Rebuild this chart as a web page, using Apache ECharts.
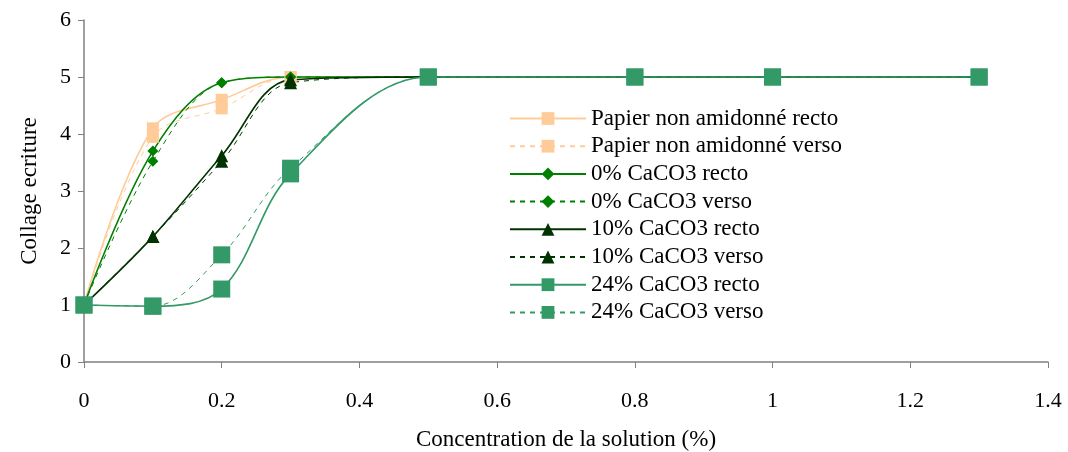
<!DOCTYPE html>
<html>
<head>
<meta charset="utf-8">
<script src="https://cdn.jsdelivr.net/npm/echarts@6/dist/echarts.min.js"></script>
<style>
  html, body { margin: 0; padding: 0; background: #fff; }
  #chart { width: 1068px; height: 452px; }
</style>
</head>
<body>
<div id="chart"></div>
<script>
// concentrations (%)
var xs = [0, 0.1, 0.2, 0.3, 0.5, 0.8, 1, 1.3];

var papierRecto = [1, 4.1, 4.6, 5, 5, 5, 5, 5];
var papierVerso = [1, 3.95, 4.45, 5, 5, 5, 5, 5];
var ca0Recto = [1, 3.7, 4.9, 5, 5, 5, 5, 5];
var ca0Verso = [1, 3.52, 4.9, 5, 5, 5, 5, 5];
var ca10Recto = [1, 2.2, 3.62, 4.95, 5, 5, 5, 5];
var ca10Verso = [1, 2.2, 3.52, 4.9, 5, 5, 5, 5];
var ca24Recto = [1, 0.98, 1.28, 3.3, 5, 5, 5, 5];
var ca24Verso = [1, 0.98, 1.88, 3.4, 5, 5, 5, 5];

var xTicks = [0, 0.2, 0.4, 0.6, 0.8, 1, 1.2, 1.4];
var yTicks = [0, 1, 2, 3, 4, 5, 6];

function pts(vals) {
  return xs.map(function (x, i) { return [x, vals[i]]; });
}

// série en ligne lissée, façon Excel
function serie(name, vals, color, symbol, size, dashed) {
  return {
    name: name,
    type: 'line',
    data: pts(vals),
    smooth: 0.35,
    symbol: symbol,
    symbolSize: size,
    showAllSymbol: true,
    itemStyle: { color: color },
    lineStyle: { color: color, width: dashed ? 1 : 1.6, type: dashed ? [5, 5] : 'solid' }
  };
}

var font = 'Liberation Serif';
var myChart = echarts.init(document.getElementById('chart'));
myChart.setOption({
  animation: false,
  grid: { left: 84, right: 20, top: 20, bottom: 90, outerBoundsMode: 'none', containLabel: false },
  legend: {
    orient: 'vertical',
    left: 509,
    top: 107,
    padding: 0,
    itemWidth: 76,
    itemHeight: 16,
    itemGap: 4.7,
    textStyle: { fontFamily: font, fontSize: 23, color: '#000', lineHeight: 23 }
  },
  xAxis: {
    type: 'value',
    min: 0, max: 1.4, interval: 0.2,
    name: 'Concentration de la solution (%)',
    nameLocation: 'middle',
    nameGap: 66,
    nameTextStyle: { fontFamily: font, fontSize: 23, color: '#000' },
    axisLine: { show: true, lineStyle: { color: '#808080', width: 1.5 } },
    axisTick: { show: true, length: 6, lineStyle: { color: '#808080' } },
    axisLabel: {
      margin: 28, fontFamily: font, fontSize: 22, color: '#000',
      formatter: function (v) { return String(+v.toFixed(1)); }
    },
    splitLine: { show: false }
  },
  yAxis: {
    type: 'value',
    min: 0, max: 6, interval: 1,
    name: 'Collage ecriture',
    nameLocation: 'middle',
    nameGap: 43,
    nameTextStyle: { fontFamily: font, fontSize: 23, color: '#000' },
    axisLine: { show: true, lineStyle: { color: '#808080', width: 1.5 } },
    axisTick: { show: true, length: 6, lineStyle: { color: '#808080' } },
    axisLabel: { margin: 13, fontFamily: font, fontSize: 22, color: '#000' },
    splitLine: { show: false }
  },
  series: [
    serie('Papier non amidonné recto', papierRecto, '#FFCC99', 'rect', 12, false),
    serie('Papier non amidonné verso', papierVerso, '#FFCC99', 'rect', 12, true),
    serie('0% CaCO3 recto', ca0Recto, '#008000', 'diamond', 11, false),
    serie('0% CaCO3 verso', ca0Verso, '#008000', 'diamond', 11, true),
    serie('10% CaCO3 recto', ca10Recto, '#003300', 'triangle', 13, false),
    serie('10% CaCO3 verso', ca10Verso, '#003300', 'triangle', 13, true),
    serie('24% CaCO3 recto', ca24Recto, '#339966', 'rect', 17, false),
    serie('24% CaCO3 verso', ca24Verso, '#339966', 'rect', 17, true)
  ]
});
</script>
</body>
</html>
